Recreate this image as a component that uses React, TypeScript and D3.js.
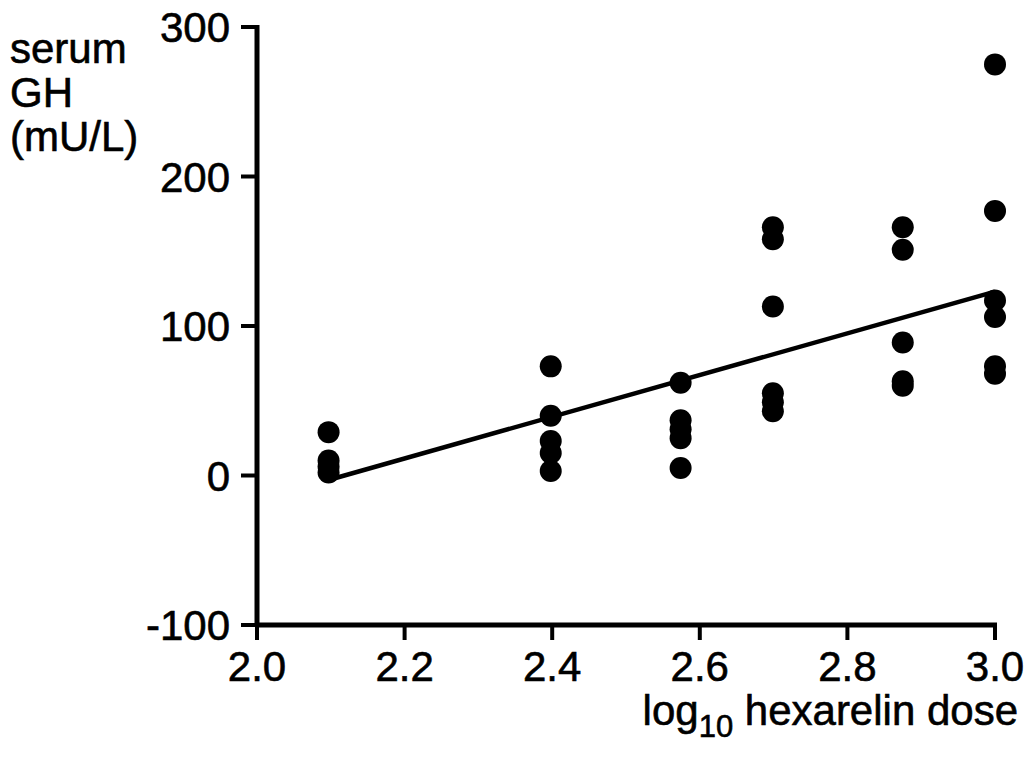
import React from "react";
import * as d3 from "d3";

// log10 dose groups and the GH responses
const logDose = [2.097, 2.398, 2.574, 2.699, 2.875, 3.0];
const ghAt2097 = [29, 10, 6, 2];
const ghAt2398 = [73, 40, 23, 15, 3];
const ghAt2574 = [62, 37, 31, 25, 5];
const ghAt2699 = [166, 158, 113, 55, 49, 43];
const ghAt2875 = [166, 151, 89, 63, 60];
const ghAt3000 = [275, 177, 117, 106, 73, 68];
const groups = [ghAt2097, ghAt2398, ghAt2574, ghAt2699, ghAt2875, ghAt3000];

// fitted regression line end points
const fitX = [2.097, 3.0];
const fitY = [-3, 123];

const xTicks = [2.0, 2.2, 2.4, 2.6, 2.8, 3.0];
const yTicks = [-100, 0, 100, 200, 300];

const W = 1029;
const H = 758;
const font = "'Liberation Sans', Arial, Helvetica, sans-serif";

const App = () => {
  const x = d3.scaleLinear().domain([2.0, 3.0]).range([257, 995]);
  const y = d3.scaleLinear().domain([-100, 300]).range([625, 27]);

  const points = groups.flatMap((vals, i) => vals.map(v => ({ x: logDose[i], y: v })));
  const line = d3.line<number>()
    .x(d => x(fitX[d]))
    .y(d => y(fitY[d]));

  // scanned text looks a little heavier than plain Liberation
  const ink = { stroke: "#000", strokeWidth: 0.6 };

  return (
    <svg width={W} height={H} style={{ position: "absolute", left: 0, top: 0, background: "#fff" }}>
      {/* axes */}
      <line x1={x(2.0)} x2={x(2.0)} y1={y(300) - 2} y2={y(-100) + 2} stroke="#000" strokeWidth={5} />
      <line x1={x(2.0) - 2} x2={x(3.0) + 2} y1={y(-100)} y2={y(-100)} stroke="#000" strokeWidth={5} />
      {yTicks.map(t => (
        <g key={"y" + t}>
          <line x1={x(2.0) - 16} x2={x(2.0)} y1={y(t)} y2={y(t)} stroke="#000" strokeWidth={4} />
          <text x={230} y={y(t)} dy="0.36em" textAnchor="end" fontFamily={font} fontSize={42} {...ink}>
            {t}
          </text>
        </g>
      ))}
      {xTicks.map(t => (
        <g key={"x" + t}>
          <line x1={x(t)} x2={x(t)} y1={y(-100)} y2={y(-100) + 15} stroke="#000" strokeWidth={4} />
          <text x={x(t)} y={681} textAnchor="middle" fontFamily={font} fontSize={42} {...ink}>
            {d3.format(".1f")(t)}
          </text>
        </g>
      ))}

      {/* regression line */}
      <path d={line([0, 1]) || ""} fill="none" stroke="#000" strokeWidth={4.5} />

      {/* data points */}
      {points.map((p, i) => (
        <circle key={i} cx={x(p.x)} cy={y(p.y)} r={11} fill="#000" />
      ))}

      {/* axis titles */}
      <text fontFamily={font} fontSize={42} {...ink}>
        <tspan x={10} y={63}>serum</tspan>
        <tspan x={10} y={107}>GH</tspan>
        <tspan x={10} y={151}>(mU/L)</tspan>
      </text>
      <text x={1018} y={725} textAnchor="end" fontFamily={font} fontSize={42} {...ink}>
        log<tspan fontSize={31} dy={12}>10</tspan>
        <tspan dy={-12}> hexarelin dose</tspan>
      </text>
    </svg>
  );
};

export default App;
